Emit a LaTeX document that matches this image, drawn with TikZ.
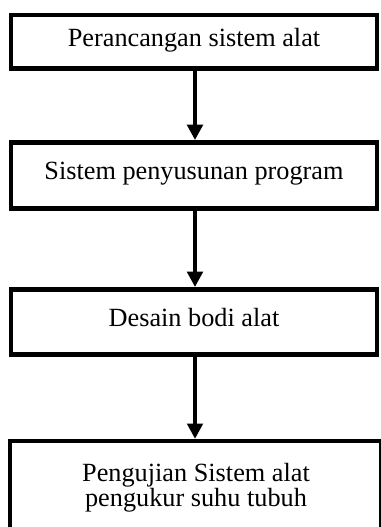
\documentclass[tikz,border=0pt]{standalone}
\usepackage{fontspec}
\setmainfont{Liberation Serif}
\usetikzlibrary{arrows.meta}
\begin{document}
\begin{tikzpicture}[x=0.75pt,y=-0.75pt,
  flowbox/.style={draw=black, line width=3.4pt, fill=white, rectangle, inner sep=0pt,
    minimum width=274.5pt, font=\fontsize{19.7}{18.5}\selectfont, text height=0.66em, text depth=0pt},
  flowtext/.style={font=\fontsize{19.7}{18.8}\selectfont, align=center, inner sep=0pt},
  flowarrow/.style={draw=black, line width=3pt, -{Triangle[width=11.5pt,length=11.5pt]}}]
\useasboundingbox (0,0) rectangle (380,527);
\node[flowbox, minimum height=40.1pt] (a) at (194,41.7) {Perancangan sistem alat};
\node[flowbox, minimum height=49.6pt] (b) at (194,175.4) {Sistem penyusunan program};
\node[flowbox, minimum height=49.1pt] (c) at (194,322) {Desain bodi alat};
\node[flowbox, minimum width=278.6pt, minimum height=77.8pt] (d) at (195.75,493) {};
\node[flowtext] (dt) at (196,488) {Pengujian Sistem alat\\pengukur suhu tubuh};
\draw[flowarrow] (a.south -| 195,0) -- (b.north -| 195,0);
\draw[flowarrow] (b.south -| 195,0) -- (c.north -| 195,0);
\draw[flowarrow] (c.south -| 195,0) -- (d.north -| 195,0);
\end{tikzpicture}
\end{document}
